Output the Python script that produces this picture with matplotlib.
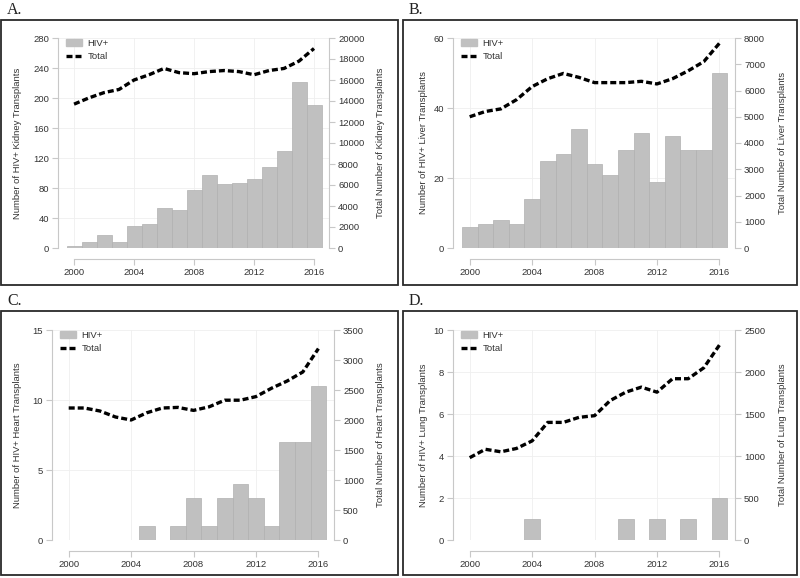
import matplotlib
matplotlib.use("Agg")
import matplotlib.pyplot as plt
from matplotlib.patches import Rectangle, Patch
from matplotlib.lines import Line2D

years = list(range(2000, 2017))

kidney_hiv = [3, 8, 18, 8, 29, 32, 54, 51, 77, 98, 85, 87, 92, 108, 129, 221, 191]
kidney_total = [13700, 14300, 14800, 15100, 16000, 16500, 17100, 16700, 16600,
                16800, 16900, 16800, 16500, 16900, 17100, 17800, 19000]

liver_hiv = [6, 7, 8, 7, 14, 25, 27, 34, 24, 21, 28, 33, 19, 32, 28, 28, 50]
liver_total = [5000, 5200, 5300, 5650, 6150, 6450, 6650, 6500, 6300,
               6300, 6300, 6350, 6250, 6450, 6750, 7100, 7800]

heart_hiv = [0, 0, 0, 0, 0, 1, 0, 1, 3, 1, 3, 4, 3, 1, 7, 7, 11]
heart_total = [2200, 2200, 2150, 2050, 2000, 2120, 2200, 2210, 2160,
               2220, 2330, 2330, 2390, 2530, 2650, 2800, 3190]

lung_hiv = [0, 0, 0, 0, 1, 0, 0, 0, 0, 0, 1, 0, 1, 0, 1, 0, 2]
lung_total = [980, 1080, 1050, 1090, 1180, 1400, 1400, 1460, 1480,
              1660, 1760, 1820, 1760, 1920, 1920, 2050, 2320]

x_ticks = [2000, 2004, 2008, 2012, 2016]

panels = [
    dict(letter="A.", hiv=kidney_hiv, total=kidney_total,
         left_ticks=[0, 40, 80, 120, 160, 200, 240, 280],
         right_ticks=[0, 2000, 4000, 6000, 8000, 10000, 12000, 14000, 16000, 18000, 20000],
         ylabel="Number of HIV+ Kidney Transplants",
         rlabel="Total Number of Kidney Transplants",
         ax_px=(58, 329, 38, 248), box_px=(1, 398, 20, 285), ylab_x=22, rlab_x=376),
    dict(letter="B.", hiv=liver_hiv, total=liver_total,
         left_ticks=[0, 20, 40, 60],
         right_ticks=[0, 1000, 2000, 3000, 4000, 5000, 6000, 7000, 8000],
         ylabel="Number of HIV+ Liver Transplants",
         rlabel="Total Number of Liver Transplants",
         ax_px=(453, 735, 38, 248), box_px=(403, 797, 20, 285), ylab_x=428, rlab_x=778),
    dict(letter="C.", hiv=heart_hiv, total=heart_total,
         left_ticks=[0, 5, 10, 15],
         right_ticks=[0, 500, 1000, 1500, 2000, 2500, 3000, 3500],
         ylabel="Number of HIV+ Heart Transplants",
         rlabel="Total Number of Heart Transplants",
         ax_px=(52, 334, 330, 540), box_px=(1, 398, 311, 575), ylab_x=22, rlab_x=376),
    dict(letter="D.", hiv=lung_hiv, total=lung_total,
         left_ticks=[0, 2, 4, 6, 8, 10],
         right_ticks=[0, 500, 1000, 1500, 2000, 2500],
         ylabel="Number of HIV+ Lung Transplants",
         rlabel="Total Number of Lung Transplants",
         ax_px=(453, 735, 330, 540), box_px=(403, 797, 311, 575), ylab_x=428, rlab_x=778),
]

W, H = 800, 578
fig = plt.figure(figsize=(8.0, 5.78), dpi=100)
plt.rcParams['font.family'] = ['Liberation Sans', 'DejaVu Sans']

spine_col = "#c8c8c8"
text_col = "#333333"
bar_col = "#c0c0c0"
bar_edge = "#b0b0b0"
grid_col = "#efefef"
fs = 6.8
dash = (0, (1.8, 0.9))

for p in panels:
    l, r, t, b = p["ax_px"]
    ax = fig.add_axes([l / W, 1 - b / H, (r - l) / W, (b - t) / H])
    ax.set_xlim(1998.93, 2017.0)
    ax.set_ylim(p["left_ticks"][0], p["left_ticks"][-1])
    ax.bar(years, p["hiv"], width=1.0, color=bar_col, edgecolor=bar_edge,
           linewidth=0.5, zorder=2)
    ax.set_xticks(x_ticks)
    ax.set_yticks(p["left_ticks"])
    ax.grid(True, color=grid_col, linewidth=0.6, zorder=0)
    ax.set_axisbelow(True)
    for s in ["top", "right"]:
        ax.spines[s].set_visible(False)
    ax.spines["left"].set_color(spine_col)
    ax.spines["bottom"].set_color(spine_col)
    ax.spines["left"].set_linewidth(0.8)
    ax.spines["bottom"].set_linewidth(0.8)
    ax.spines["bottom"].set_position(("outward", 8))
    ax.spines["bottom"].set_bounds(2000, 2016)
    ax.tick_params(axis="both", colors=spine_col, labelcolor=text_col,
                   labelsize=fs, length=4, width=0.8, pad=2.5)
    ax.set_ylabel(p["ylabel"], fontsize=fs, color=text_col)
    ax.yaxis.set_label_coords((p["ylab_x"] - l) / (r - l), 0.5)

    ax2 = ax.twinx()
    ax2.set_ylim(p["right_ticks"][0], p["right_ticks"][-1])
    ax2.set_yticks(p["right_ticks"])
    ax2.plot(years, p["total"], color="black", linewidth=2.4,
             linestyle=dash, zorder=3)
    for s in ["top", "left", "bottom"]:
        ax2.spines[s].set_visible(False)
    ax2.spines["right"].set_color(spine_col)
    ax2.spines["right"].set_linewidth(0.8)
    ax2.tick_params(axis="y", colors=spine_col, labelcolor=text_col,
                    labelsize=fs, length=4, width=0.8, pad=2.5)
    ax2.set_ylabel(p["rlabel"], fontsize=fs, color=text_col)
    ax2.yaxis.set_label_coords((p["rlab_x"] - l) / (r - l), 0.5)

    handles = [Patch(facecolor=bar_col, edgecolor=bar_col),
               Line2D([0], [0], color="black", linewidth=2.4, linestyle=dash)]
    leg = ax2.legend(handles, ["HIV+", "Total"], loc="upper left", frameon=False,
                     fontsize=fs, bbox_to_anchor=(0.0, 1.035), handlelength=1.7,
                     handleheight=0.8, handletextpad=0.55, labelspacing=0.5,
                     borderaxespad=0.45)
    for tx in leg.get_texts():
        tx.set_color(text_col)

    bl, br, bt, bb = p["box_px"]
    fig.patches.append(Rectangle((bl / W, 1 - bb / H), (br - bl) / W, (bb - bt) / H,
                                 transform=fig.transFigure, fill=False,
                                 edgecolor="#2a2a2a", linewidth=1.3))
    fig.text((bl + 6) / W, 1 - (bt - 6) / H, p["letter"], family=["Liberation Serif", "DejaVu Serif"],
             fontsize=11.5, color="#222222", va="baseline", ha="left")

fig.savefig("out.png", dpi=100, facecolor="white")
